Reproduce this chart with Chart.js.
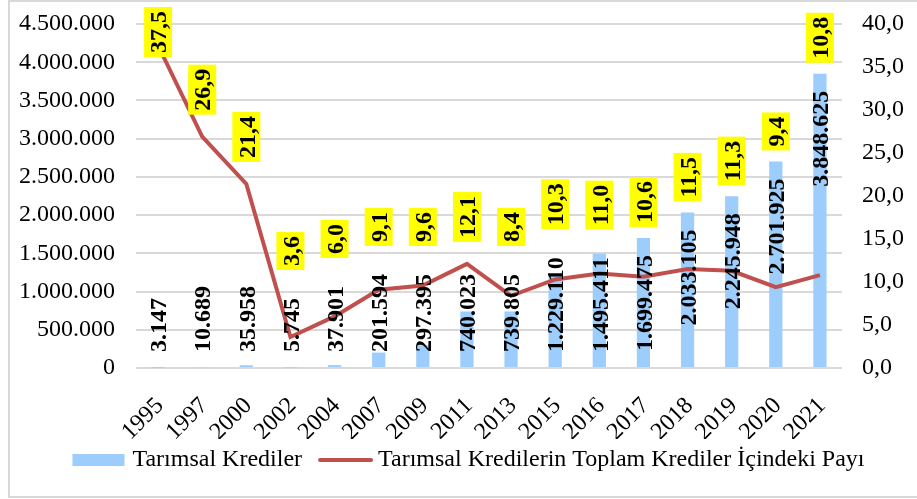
<!DOCTYPE html>
<html>
<head>
<meta charset="utf-8">
<script src="https://cdn.jsdelivr.net/npm/chart.js@4"></script>
<style>
  html, body { margin: 0; padding: 0; background: #fff; }
  #wrap { position: relative; width: 917px; height: 499px; }
</style>
</head>
<body>
<div id="wrap"><canvas id="krediChart" width="917" height="499"></canvas></div>
<script>
const years = ['1995', '1997', '2000', '2002', '2004', '2007', '2009', '2011', '2013', '2015', '2016', '2017', '2018', '2019', '2020', '2021'];
const tarimsalKrediler = [3147, 10689, 35958, 5745, 37901, 201594, 297395, 740023, 739805, 1229110, 1495411, 1699475, 2033105, 2245948, 2701925, 3848625];
const toplamPayi = [37.5, 26.9, 21.4, 3.6, 6.0, 9.1, 9.6, 12.1, 8.4, 10.3, 11.0, 10.6, 11.5, 11.3, 9.4, 10.8];
const seriesNames = ['Tarımsal Krediler', 'Tarımsal Kredilerin Toplam Krediler İçindeki Payı'];

const barColor = '#9ccdfc';
const lineColor = '#c0504d';
const serif = '"Liberation Serif", "Times New Roman", serif';
const fontPx = 24;

function dots(n) {
    return String(n).replace(/\B(?=(\d{3})+(?!\d))/g, '.');
}
function comma(v) {
    return v.toFixed(1).replace('.', ',');
}

// frame round the whole picture
const framePlugin = {
    id: 'frame',
    beforeDraw(chart) {
        const ctx = chart.ctx;
        ctx.save();
        ctx.strokeStyle = '#d9d9d9';
        ctx.lineWidth = 2;
        ctx.strokeRect(9, 1, 1000, 496);
        ctx.restore();
    }
};

// value labels: vertical bold text in the bars, yellow boxes for the line
const labelPlugin = {
    id: 'valueLabels',
    afterDatasetsDraw(chart) {
        const ctx = chart.ctx;
        const bars = chart.getDatasetMeta(0).data;
        const pts = chart.getDatasetMeta(1).data;
        const floor = chart.chartArea.bottom - 16;
        ctx.save();
        ctx.font = 'bold ' + fontPx + 'px ' + serif;
        bars.forEach((bar, i) => {
            const txt = dots(tarimsalKrediler[i]);
            const w = ctx.measureText(txt).width;
            const bottom = Math.min(bar.y + 17 + w, floor);
            ctx.save();
            ctx.translate(bar.x + 2, bottom);
            ctx.rotate(-Math.PI / 2);
            ctx.textAlign = 'left';
            ctx.textBaseline = 'middle';
            ctx.fillStyle = '#000';
            ctx.fillText(txt, 0, 0);
            ctx.restore();

            const pt = pts[i];
            const t2 = comma(toplamPayi[i]);
            const w2 = ctx.measureText(t2).width;
            const boxH = w2 + 8, boxW = 28;
            let boxBottom = Math.min(pt.y - 22, bottom - w - 28);
            if (boxBottom - boxH < 7) boxBottom = 7 + boxH;
            ctx.fillStyle = '#ffff00';
            ctx.fillRect(pt.x - boxW / 2, boxBottom - boxH, boxW, boxH);
            ctx.save();
            ctx.translate(pt.x + 2, boxBottom - 4);
            ctx.rotate(-Math.PI / 2);
            ctx.textAlign = 'left';
            ctx.textBaseline = 'middle';
            ctx.fillStyle = '#000';
            ctx.fillText(t2, 0, 0);
            ctx.restore();
        });
        ctx.restore();
    }
};

// legend drawn by hand so the line swatch looks like the original
const legendPlugin = {
    id: 'handLegend',
    afterDraw(chart) {
        const ctx = chart.ctx;
        ctx.save();
        ctx.font = fontPx + 'px ' + serif;
        const w1 = ctx.measureText(seriesNames[0]).width;
        const w2 = ctx.measureText(seriesNames[1]).width;
        const total = 52 + 8 + w1 + 16 + 55 + 5 + w2;
        let x = (chart.width - total) / 2 + 10;
        const y = 460;
        ctx.fillStyle = barColor;
        ctx.fillRect(x, y - 6, 52, 12);
        x += 60;
        ctx.fillStyle = '#000';
        ctx.textBaseline = 'middle';
        ctx.fillText(seriesNames[0], x, y);
        x += w1 + 16;
        ctx.strokeStyle = lineColor;
        ctx.lineWidth = 4;
        ctx.lineCap = 'round';
        ctx.beginPath();
        ctx.moveTo(x + 2, y);
        ctx.lineTo(x + 53, y);
        ctx.stroke();
        x += 60;
        ctx.fillText(seriesNames[1], x, y);
        ctx.restore();
    }
};

const ctx = document.getElementById('krediChart').getContext('2d');
new Chart(ctx, {
    data: {
        labels: years,
        datasets: [
            {
                type: 'bar',
                label: seriesNames[0],
                data: tarimsalKrediler,
                backgroundColor: barColor,
                barPercentage: 0.3,
                categoryPercentage: 1,
                yAxisID: 'y',
                order: 2
            },
            {
                type: 'line',
                label: seriesNames[1],
                data: toplamPayi,
                borderColor: lineColor,
                borderWidth: 4,
                pointRadius: 0,
                tension: 0,
                yAxisID: 'y1',
                order: 1
            }
        ]
    },
    options: {
        responsive: false,
        animation: false,
        layout: { padding: { top: 0, bottom: 60, left: 0, right: 0 } },
        plugins: {
            legend: { display: false },
            tooltip: { enabled: false }
        },
        scales: {
            x: {
                grid: { display: false },
                border: { display: false },
                ticks: {
                    autoSkip: false,
                    minRotation: 45,
                    maxRotation: 45,
                    color: '#000',
                    font: { family: serif, size: fontPx },
                    padding: 16,
                    labelOffset: 2
                },
                afterFit(scale) { scale.height = 71; }
            },
            y: {
                position: 'left',
                min: 0,
                max: 4500000,
                ticks: {
                    stepSize: 500000,
                    color: '#000',
                    font: { family: serif, size: fontPx },
                    padding: 21,
                    callback: v => dots(v)
                },
                grid: { color: '#d9d9d9', lineWidth: 2, drawTicks: false },
                border: { display: false },
                afterFit(scale) { scale.width = 136; scale.paddingTop = 24; }
            },
            y1: {
                position: 'right',
                min: 0,
                max: 40,
                ticks: {
                    stepSize: 5,
                    color: '#000',
                    font: { family: serif, size: fontPx },
                    padding: 20,
                    callback: v => comma(v)
                },
                grid: { display: false, drawTicks: false },
                border: { display: false },
                afterFit(scale) { scale.width = 75; scale.paddingTop = 24; }
            }
        }
    },
    plugins: [framePlugin, labelPlugin, legendPlugin]
});
</script>
</body>
</html>
